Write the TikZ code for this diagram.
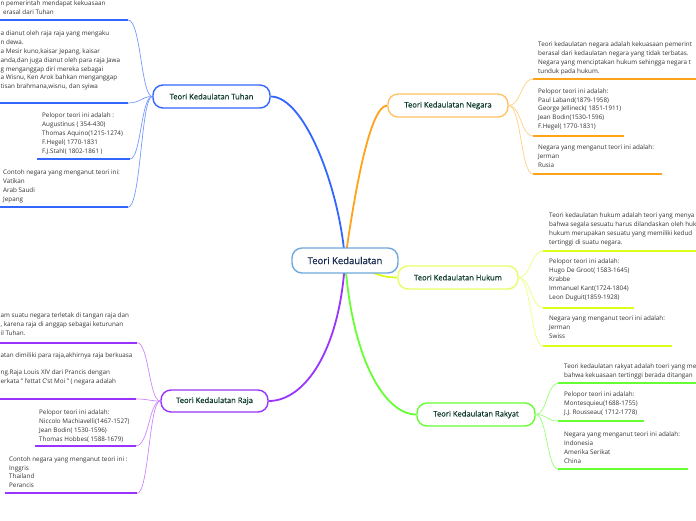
\documentclass[tikz,border=0pt]{standalone}
\usepackage{fontspec}
\setmainfont{Open Sans}
\newfontfamily\lblfont[FakeBold=0.6]{Open Sans}
\usetikzlibrary{backgrounds}
\definecolor{txtgray}{HTML}{333333}
\definecolor{lbltext}{HTML}{0E3B2E}
\definecolor{ctext}{HTML}{1A2D50}
\definecolor{cborder}{HTML}{6FA8DC}
\definecolor{tuhanc}{HTML}{3366FF}
\definecolor{tuhanl}{HTML}{7799FF}
\definecolor{negarac}{HTML}{FFA31A}
\definecolor{negarab}{HTML}{FFC266}
\definecolor{negaral}{HTML}{FFD080}
\definecolor{hukumc}{HTML}{D9FF1A}
\definecolor{hukumb}{HTML}{E6FF66}
\definecolor{hukuml}{HTML}{EEFF80}
\definecolor{rajac}{HTML}{9933FF}
\definecolor{rajal}{HTML}{CC88FF}
\definecolor{rakyatc}{HTML}{66FF33}
\definecolor{rakyatl}{HTML}{99FF77}
\begin{document}
\begin{tikzpicture}[x=1pt,y=-1pt,
  mainnode/.style={draw, line width=1.4pt, fill=white, rounded corners=10pt,
    font=\lblfont\fontsize{7.6}{9}\selectfont, text=lbltext, inner sep=0pt,
    minimum height=23pt},
  txt/.style={font=\fontsize{6.3}{8.9}\selectfont, text=txtgray, inner sep=0pt,
    align=left, anchor=north west},
  uline/.style={line width=2pt},
  childlink/.style={line width=0.7pt},
  mainedge/.style={line width=1.8pt}]
\useasboundingbox (0,0) rectangle (696,520);

% ---- main nodes
\node[mainnode, draw=cborder, text=ctext, minimum width=106pt, minimum height=25pt,
  font=\lblfont\fontsize{9.5}{11}\selectfont] (c) at (345,260.5) {Teori Kedaulatan};
\node[mainnode, draw=tuhanc, minimum width=117pt] (tuhan) at (211.5,96.5) {Teori Kedaulatan Tuhan};
\node[mainnode, draw=negarab, minimum width=120pt] (negara) at (448,105.5) {Teori Kedaulatan Negara};
\node[mainnode, draw=hukumb, minimum width=120pt] (hukum) at (458,277.5) {Teori Kedaulatan Hukum};
\node[mainnode, draw=rajac, minimum width=107pt, minimum height=22pt] (raja) at (214.5,401) {Teori Kedaulatan Raja};
\node[mainnode, draw=rakyatc, minimum width=118pt] (rakyat) at (476,414.5) {Teori Kedaulatan Rakyat};

% ---- texts: Tuhan
\node[txt] (t1) at (0.5,0.5) {n pemerintah mendapat kekuasaan\\\hspace*{2.5pt}erasal dari Tuhan};
\node[txt] (t2) at (0.5,30.5) {a dianut oleh raja raja yang mengaku\\n dewa.\\a Mesir kuno,kaisar Jepang, kaisar\\anda,dan juga dianut oleh para raja Jawa\\g menganggap diri mereka sebagai\\a Wisnu, Ken Arok bahkan menganggap\\tisan brahmana,wisnu, dan syiwa};
\node[txt] (t3) at (42,112.9) {Pelopor teori ini adalah :\\Augustinus ( 354-430)\\Thomas Aquino(1215-1274)\\F.Hegel( 1770-1831\\F.J.Stahl( 1802-1861 )};
\node[txt] (t4) at (3,169.5) {Contoh negara yang menganut teori ini:\\Vatikan\\Arab Saudi\\Jepang};

% ---- texts: Negara
\node[txt] (n1) at (538,41.5) {Teori kedaulatan negara adalah kekuasaan pemerint\\berasal dari kedaulatan negara yang tidak terbatas.\\Negara yang menciptakan hukum sehingga negara t\\tunduk pada hukum.};
\node[txt] (n2) at (538,88.2) {Pelopor teori ini adalah:\\Paul Laband(1879-1958)\\George Jellineck( 1851-1911)\\Jean Bodin(1530-1596)\\F.Hegel( 1770-1831)};
\node[txt] (n3) at (538,144.9) {Negara yang menganut teori ini adalah:\\Jerman\\Rusia};

% ---- texts: Hukum
\node[txt] (h1) at (549,212.9) {Teori kedaulatan hukum adalah teori yang menya\\bahwa segala sesuatu harus dilandaskan oleh huk\\hukum merupakan sesuatu yang memiliki kedud\\tertinggi di suatu negara.};
\node[txt] (h2) at (549,258.9) {Pelopor teori ini adalah:\\Hugo De Groot( 1583-1645)\\Krabbe\\Immanuel Kant(1724-1804)\\Leon Duguit(1859-1928)};
\node[txt] (h3) at (549,315.5) {Negara yang menganut teori ini adalah:\\Jerman\\Swiss};

% ---- texts: Rakyat
\node[txt] (r1) at (564,363.9) {Teori kedaulatan rakyat adalah toeri yang me\\bahwa kekuasaan tertinggi berada ditangan};
\node[txt] (r2) at (564,391.5) {Pelopor teori ini adalah:\\Montesquieu(1688-1755)\\J.J. Rousseau( 1712-1778)};
\node[txt] (r3) at (564,431.5) {Negara yang menganut teori ini adalah:\\Indonesia\\Amerika Serikat\\China};

% ---- texts: Raja
\node[txt] (j1) at (0.5,312.9) {am suatu negara terletak di tangan raja dan\\, karena raja di anggap sebagai keturunan\\il Tuhan.};
\node[txt] (j2) at (0.5,352.2) {atan dimiliki para raja,akhirnya raja berkuasa\\\mbox{}\\ng.Raja Louis XIV dari Prancis dengan\\erkata " l'ettat C'st Moi " ( negara adalah};
\node[txt] (j3) at (39,409.5) {Pelopor teori ini adalah:\\Niccolo Machiavelli(1467-1527)\\Jean Bodin( 1530-1596)\\Thomas Hobbes( 1588-1679)};
\node[txt] (j4) at (9,456.2) {Contoh negara yang menganut teori ini :\\Inggris\\Thailand\\Perancis};

% ---- underline coordinates
\coordinate (tu1a) at (0,20);     \coordinate (tu1b) at (128,20);
\coordinate (tu2a) at (0,103);    \coordinate (tu2b) at (128,103);
\coordinate (tu3a) at (37,159);   \coordinate (tu3b) at (130,159);
\coordinate (tu4a) at (0,207.3);  \coordinate (tu4b) at (128,207.3);
\coordinate (ne1a) at (533,79);   \coordinate (ne1b) at (696,79);
\coordinate (ne2a) at (533,136);  \coordinate (ne2b) at (624,136);
\coordinate (ne3a) at (533,174);  \coordinate (ne3b) at (662,174);
\coordinate (hu1a) at (543,251);  \coordinate (hu1b) at (696,251);
\coordinate (hu2a) at (543,307.7);\coordinate (hu2b) at (634,307.7);
\coordinate (hu3a) at (543,346);  \coordinate (hu3b) at (672,346);
\coordinate (ra1a) at (558,383.3);\coordinate (ra1b) at (696,383.3);
\coordinate (ra2a) at (558,421);  \coordinate (ra2b) at (644,421);
\coordinate (ra3a) at (558,469);  \coordinate (ra3b) at (688,469);
\coordinate (rj1a) at (0,342.7);  \coordinate (rj1b) at (137,342.7);
\coordinate (rj2a) at (0,399);    \coordinate (rj2b) at (136,399);
\coordinate (rj3a) at (35,445.7); \coordinate (rj3b) at (136,445.7);
\coordinate (rj4a) at (5,493.3);  \coordinate (rj4b) at (137,493.3);

\begin{pgfonlayer}{background}
\fill[white] (0,0) rectangle (696,520);
% main edges
\draw[mainedge, tuhanc] (c.center) .. controls (340,190) and (305,96.5) .. (tuhan.east);
\draw[mainedge, negarac] (c.center) .. controls (355,190) and (370,105.5) .. (negara.west);
\draw[mainedge, hukumc] (c.center) .. controls (378,276) and (385,277.5) .. (hukum.west);
\draw[mainedge, rajac] (c.center) .. controls (340,350) and (305,401) .. (raja.east);
\draw[mainedge, rakyatc] (c.center) .. controls (352,360) and (385,414.5) .. (rakyat.west);
% Tuhan children
\foreach \k in {1,2,3,4}{
  \draw[childlink, tuhanl] (tuhan.west) .. controls (141,96.5) and (141,0|-tu\k b) .. (tu\k b);
  \draw[uline, tuhanc] (tu\k a) -- (tu\k b);
}
% Raja children
\foreach \k in {1,2,3,4}{
  \draw[childlink, rajal] (raja.west) .. controls (149,401) and (149,0|-rj\k b) .. (rj\k b);
  \draw[uline, rajac] (rj\k a) -- (rj\k b);
}
% Negara children
\foreach \k in {1,2,3}{
  \draw[childlink, negaral] (negara.east) .. controls (521,105.5) and (521,0|-ne\k a) .. (ne\k a);
  \draw[uline, negarac] (ne\k a) -- (ne\k b);
}
% Hukum children
\foreach \k in {1,2,3}{
  \draw[childlink, hukuml] (hukum.east) .. controls (531,277.5) and (531,0|-hu\k a) .. (hu\k a);
  \draw[uline, hukumc] (hu\k a) -- (hu\k b);
}
% Rakyat children
\foreach \k in {1,2,3}{
  \draw[childlink, rakyatl] (rakyat.east) .. controls (547,414.5) and (547,0|-ra\k a) .. (ra\k a);
  \draw[uline, rakyatc] (ra\k a) -- (ra\k b);
}
\end{pgfonlayer}
\end{tikzpicture}
\end{document}
